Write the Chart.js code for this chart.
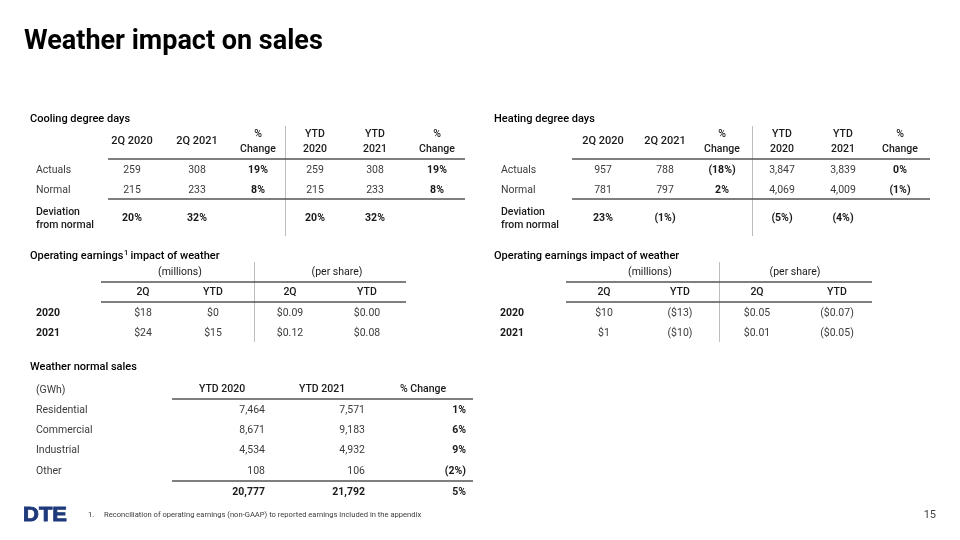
<!DOCTYPE html>
<html>
<head>
<meta charset="utf-8">
<script src="https://cdn.jsdelivr.net/npm/chart.js@4.4.0/dist/chart.umd.min.js"></script>
<style>
  html, body { margin: 0; background: #fff; }
  #wrap { width: 960px; height: 540px; }
</style>
</head>
<body>
<div id="wrap"><canvas id="slide" width="960" height="540"></canvas></div>
<script>
// ---- data ----
const degreeCols = ["2Q 2020", "2Q 2021", "% Change", "YTD 2020", "YTD 2021", "% Change"];
const degreeRows = ["Actuals", "Normal"];
const coolingActuals = [259, 308, 19, 259, 308, 19];
const coolingNormal = [215, 233, 8, 215, 233, 8];
const coolingDeviation = [20, 32, null, 20, 32, null];
const heatingActuals = [957, 788, -18, 3847, 3839, 0];
const heatingNormal = [781, 797, 2, 4069, 4009, -1];
const heatingDeviation = [23, -1, null, -5, -4, null];

const earnYears = ["2020", "2021"];
const earnGroups = ["(millions)", "(per share)"];
const earnCols = ["2Q", "YTD", "2Q", "YTD"];
const coolingMillions = [[18, 0], [24, 15]];
const coolingPerShare = [[0.09, 0.00], [0.12, 0.08]];
const heatingMillions = [[10, -13], [1, -10]];
const heatingPerShare = [[0.05, -0.07], [0.01, -0.05]];

const salesCols = ["YTD 2020", "YTD 2021", "% Change"];
const salesClasses = ["Residential", "Commercial", "Industrial", "Other"];
const sales2020 = [7464, 8671, 4534, 108];
const sales2021 = [7571, 9183, 4932, 106];
const salesChange = [1, 6, 9, -2];
const salesTotal = [20777, 21792, 5];

// ---- formatting ----
const paren = (neg, s) => neg ? "(" + s + ")" : s;
const fmtNum = v => v.toLocaleString("en-US");
const fmtPct = v => v == null ? "" : paren(v < 0, Math.abs(v) + "%");
const fmtMil = v => paren(v < 0, "$" + Math.abs(v));
const fmtShare = v => paren(v < 0, "$" + Math.abs(v).toFixed(2));

// ---- layout ----
const FONT = "Roboto, 'Noto Sans', sans-serif";
const INK = "#1a1a1a", BODY = "#3c3c3c", RULE = "#555555", DIV = "#bdbdbd";

const coolingLayout = { titleX: 30, labelX: 36, cols: [132, 197, 258, 315, 375, 437], ruleL: 108, ruleR: 465, divX: 285 };
const heatingLayout = { titleX: 494, labelX: 501, cols: [603, 665, 722, 782, 843, 900], ruleL: 572, ruleR: 930, divX: 752 };
const coolEarnLayout = { titleX: 30, labelX: 36, groups: [180, 337], cols: [143, 213, 290, 367], ruleL: 101, ruleR: 406, divX: 254 };
const heatEarnLayout = { titleX: 494, labelX: 500, groups: [650, 795], cols: [604, 680, 757, 837], ruleL: 566, ruleR: 872, divX: 719 };

const tablesPlugin = {
  id: "tables",
  afterDraw(chart) {
    const c = chart.ctx;
    const X = v => chart.scales.x.getPixelForValue(v);
    const Y = v => chart.scales.y.getPixelForValue(v);

    function text(s, x, y, align, size, weight, color) {
      c.save();
      c.font = weight + " " + size + "px " + FONT;
      c.fillStyle = color;
      c.textAlign = align;
      c.textBaseline = "middle";
      c.fillText(s, X(x), Y(y));
      c.restore();
    }
    function hline(x1, x2, y, color, w) {
      c.save();
      c.strokeStyle = color; c.lineWidth = w;
      c.beginPath(); c.moveTo(X(x1), Y(y)); c.lineTo(X(x2), Y(y)); c.stroke();
      c.restore();
    }
    function vline(x, y1, y2) {
      c.save();
      c.strokeStyle = DIV; c.lineWidth = 1;
      c.beginPath(); c.moveTo(X(x) + 0.5, Y(y1)); c.lineTo(X(x) + 0.5, Y(y2)); c.stroke();
      c.restore();
    }

    function degreeTable(title, L, actuals, normal, deviation) {
      text(title, L.titleX, 119, "left", 11, 500, "#000");
      vline(L.divX, 126, 236);
      degreeCols.forEach((h, i) => {
        const parts = h.split(" ");
        if (h.startsWith("2Q")) text(h, L.cols[i], 141, "center", 11, 500, INK);
        else {
          text(parts[0], L.cols[i], 134, "center", 10.5, 500, INK);
          text(parts[1], L.cols[i], 149, "center", 10.5, 500, INK);
        }
      });
      hline(L.ruleL, L.ruleR, 159, RULE, 1.5);
      [actuals, normal].forEach((row, r) => {
        const y = 170 + r * 20;
        text(degreeRows[r], L.labelX, y, "left", 10.5, 400, BODY);
        row.forEach((v, i) => {
          const isPct = i === 2 || i === 5;
          text(isPct ? fmtPct(v) : fmtNum(v), L.cols[i], y, "center", 10.5, isPct ? 700 : 400, isPct ? INK : BODY);
        });
      });
      hline(L.ruleL, L.ruleR, 199, RULE, 1.5);
      text("Deviation", L.labelX, 212, "left", 10.5, 500, INK);
      text("from normal", L.labelX, 225, "left", 10.5, 500, INK);
      deviation.forEach((v, i) => {
        if (v != null) text(fmtPct(v), L.cols[i], 218, "center", 10.5, 700, INK);
      });
    }

    function earningsTable(L, millions, perShare, superscript) {
      if (superscript) {
        c.save();
        c.font = "500 11px " + FONT;
        const w1 = c.measureText("Operating earnings").width;
        c.restore();
        text("Operating earnings", L.titleX, 256, "left", 11, 500, "#000");
        text("1", L.titleX + w1 + 0.5, 253, "left", 7.5, 500, "#000");
        text("impact of weather", L.titleX + w1 + 7, 256, "left", 11, 500, "#000");
      } else {
        text("Operating earnings impact of weather", L.titleX, 256, "left", 11, 500, "#000");
      }
      vline(L.divX, 262, 342);
      earnGroups.forEach((g, i) => text(g, L.groups[i], 272, "center", 10.5, 400, INK));
      hline(L.ruleL, L.ruleR, 282, RULE, 1.5);
      earnCols.forEach((h, i) => text(h, L.cols[i], 292, "center", 10.5, 500, INK));
      hline(L.ruleL, L.ruleR, 302, RULE, 1.5);
      earnYears.forEach((yr, r) => {
        const y = 313 + r * 20;
        text(yr, L.labelX, y, "left", 10.5, 700, INK);
        millions[r].forEach((v, i) => text(fmtMil(v), L.cols[i], y, "center", 10.5, 400, BODY));
        perShare[r].forEach((v, i) => text(fmtShare(v), L.cols[i + 2], y, "center", 10.5, 400, BODY));
      });
    }

    function salesTable() {
      const heads = [222, 322, 423], rights = [265, 365, 466];
      text("Weather normal sales", 30, 367, "left", 11, 500, "#000");
      text("(GWh)", 36, 390, "left", 10.5, 400, BODY);
      salesCols.forEach((h, i) => text(h, heads[i], 389, "center", 10.5, 500, INK));
      hline(172, 473, 399, RULE, 1.5);
      salesClasses.forEach((name, r) => {
        const y = 410 + r * 20.3;
        text(name, 36, y, "left", 10.5, 400, BODY);
        text(fmtNum(sales2020[r]), rights[0], y, "right", 10.5, 400, BODY);
        text(fmtNum(sales2021[r]), rights[1], y, "right", 10.5, 400, BODY);
        text(fmtPct(salesChange[r]), rights[2], y, "right", 10.5, 700, INK);
      });
      hline(172, 473, 481, RULE, 1.5);
      text(fmtNum(salesTotal[0]), rights[0], 492, "right", 10.5, 700, INK);
      text(fmtNum(salesTotal[1]), rights[1], 492, "right", 10.5, 700, INK);
      text(fmtPct(salesTotal[2]), rights[2], 492, "right", 10.5, 700, INK);
    }

    // slide title and footer
    text("Weather impact on sales", 24, 42, "left", 27, 700, "#000");
    degreeTable("Cooling degree days", coolingLayout, coolingActuals, coolingNormal, coolingDeviation);
    degreeTable("Heating degree days", heatingLayout, heatingActuals, heatingNormal, heatingDeviation);
    earningsTable(coolEarnLayout, coolingMillions, coolingPerShare, true);
    earningsTable(heatEarnLayout, heatingMillions, heatingPerShare, false);
    salesTable();

    // DTE wordmark, widened block letters
    c.save();
    c.font = "900 19.5px 'Liberation Sans', Arial, sans-serif";
    c.fillStyle = "#1e3a7b";
    c.textBaseline = "middle";
    const lw = c.measureText("DTE").width;
    c.translate(X(23), Y(515.5));
    c.scale(44 / lw, 1);
    c.fillText("DTE", 0, 0);
    c.strokeStyle = "#1e3a7b"; c.lineWidth = 0.8;
    c.strokeText("DTE", 0, 0);
    c.restore();
    text("1.", 88, 515, "left", 7.6, 400, BODY);
    text("Reconciliation of operating earnings (non-GAAP) to reported earnings included in the appendix", 104, 515, "left", 7.6, 400, BODY);
    text("15", 936, 515, "right", 11, 400, "#444");
  }
};

new Chart(document.getElementById("slide"), {
  type: "scatter",
  data: { datasets: [] },
  options: {
    responsive: false,
    animation: false,
    layout: { padding: 0 },
    scales: {
      x: { type: "linear", min: 0, max: 960, display: false },
      y: { type: "linear", min: 0, max: 540, reverse: true, display: false }
    },
    plugins: { legend: { display: false }, tooltip: { enabled: false } }
  },
  plugins: [tablesPlugin]
});
</script>
</body>
</html>
